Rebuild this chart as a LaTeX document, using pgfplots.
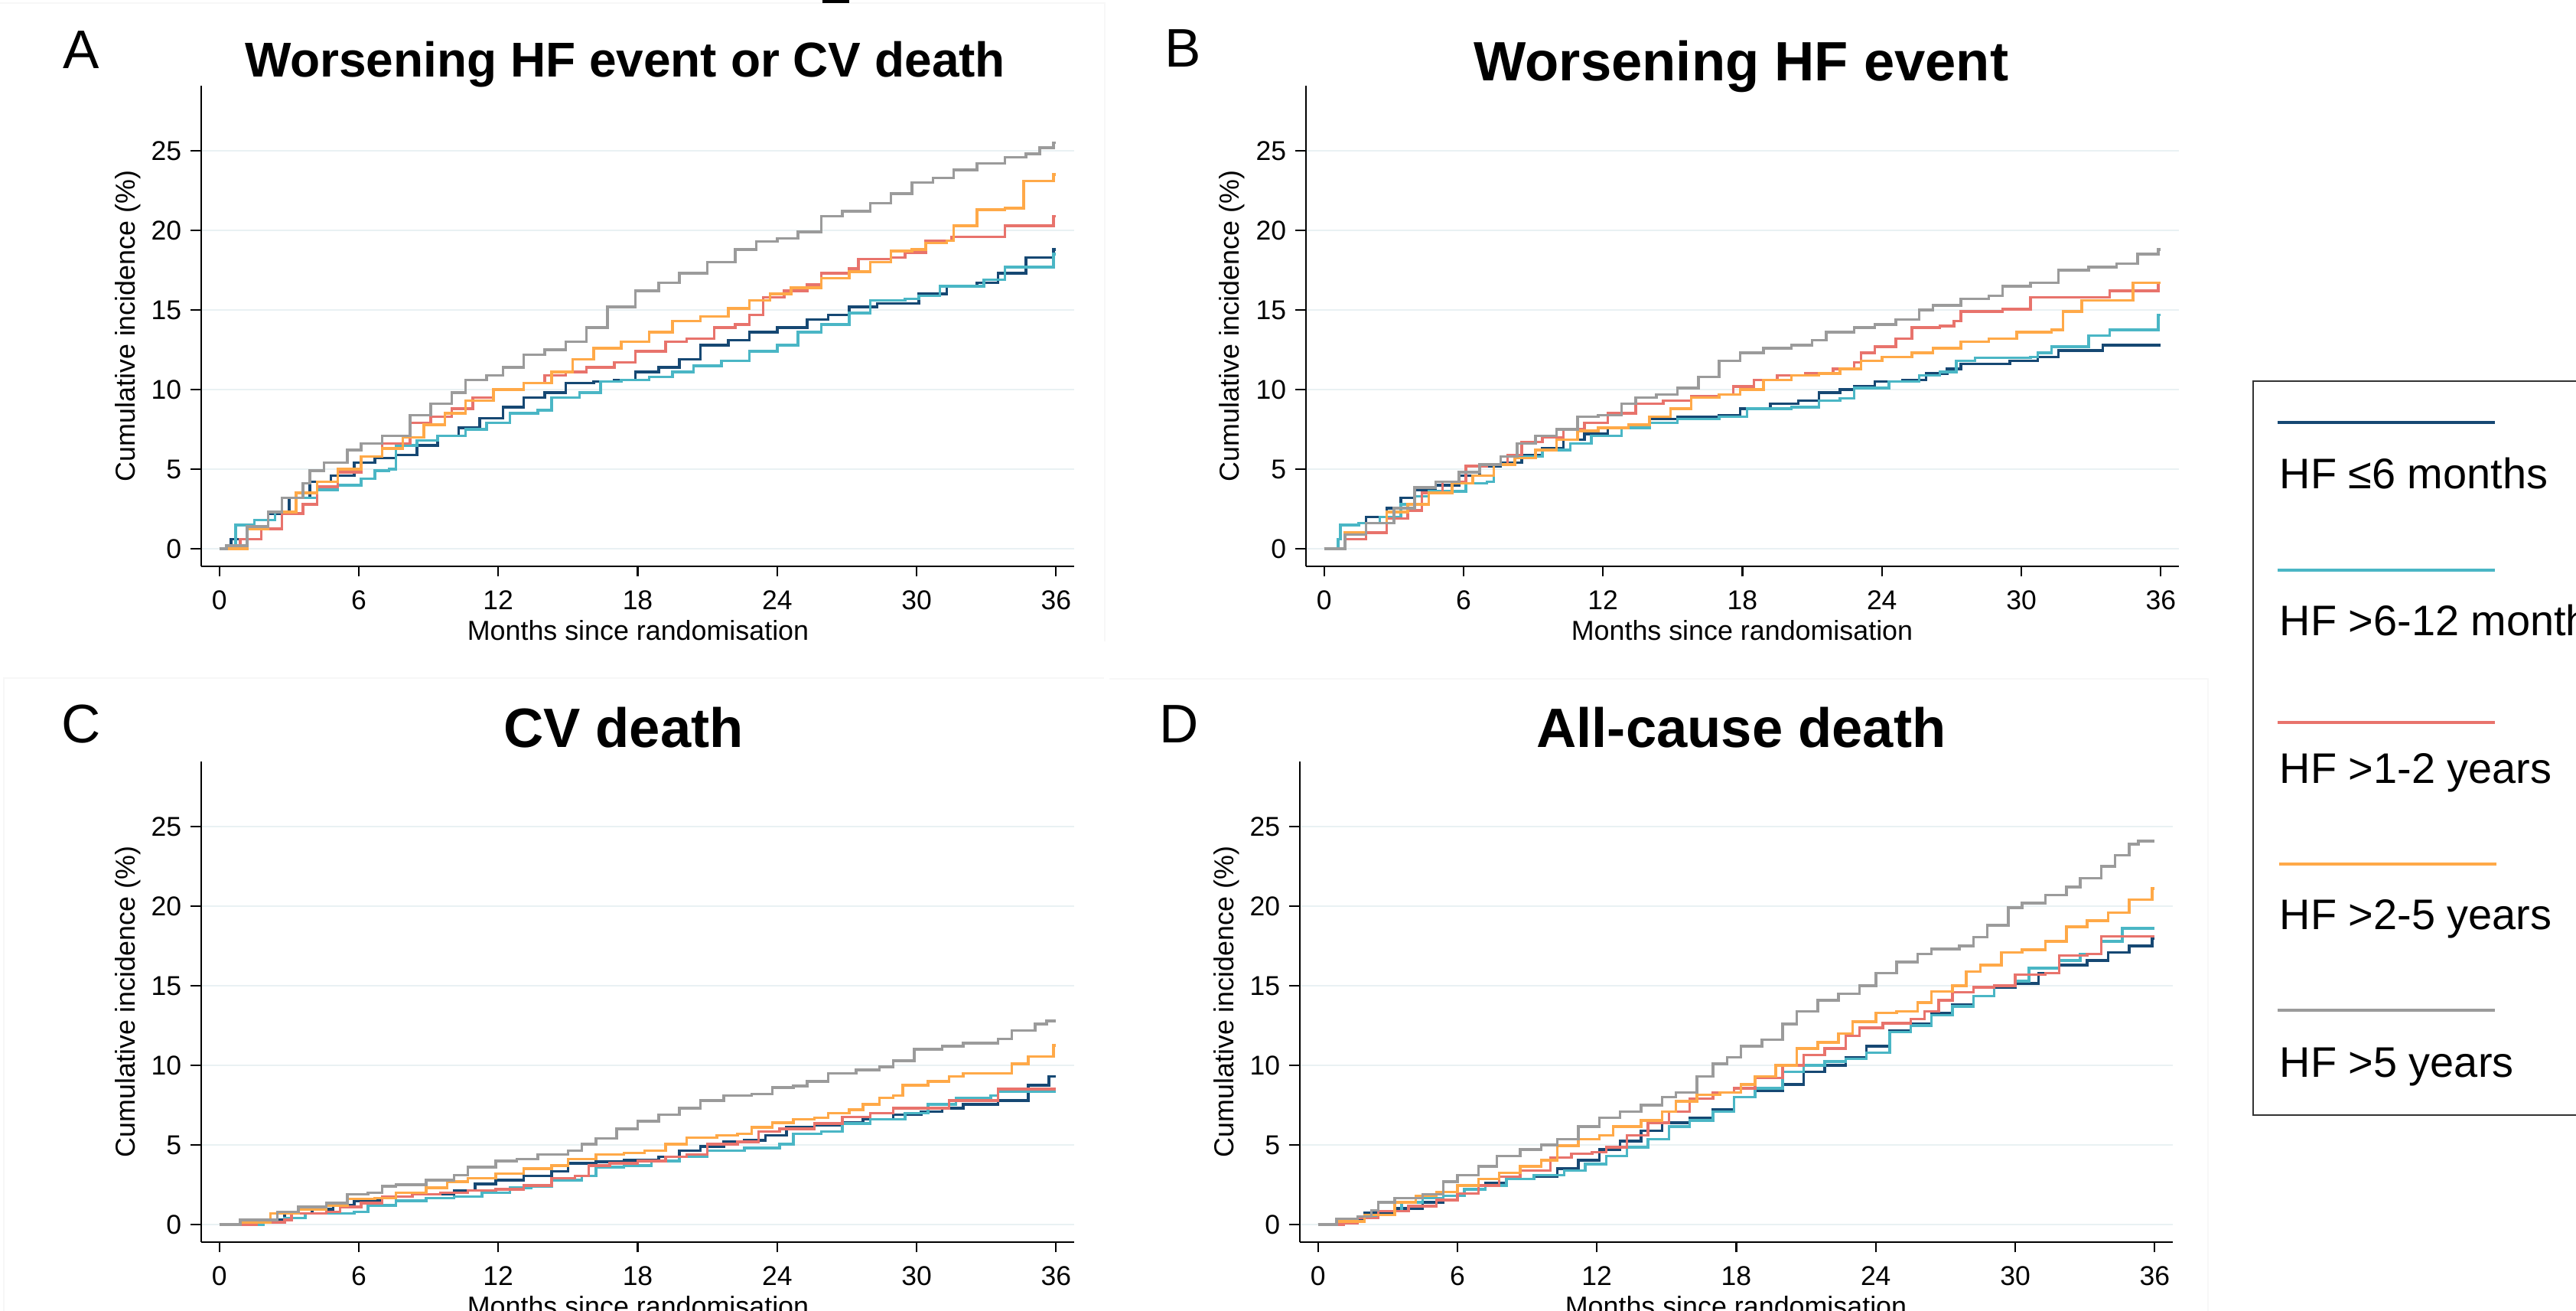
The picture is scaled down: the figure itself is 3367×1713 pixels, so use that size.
\documentclass[border=0pt]{standalone}
\usepackage{pgfplots}
\pgfplotsset{compat=1.18}
\usepackage{fontspec}
\setmainfont{Liberation Sans}
\definecolor{cnavy}{RGB}{22,72,115}
\definecolor{cteal}{RGB}{74,182,197}
\definecolor{cred}{RGB}{232,115,108}
\definecolor{corange}{RGB}{255,169,72}
\definecolor{cgray}{RGB}{155,155,155}
\definecolor{gridc}{RGB}{233,241,243}
\pgfplotsset{
  panel/.style={
    scale only axis, width=114.1mm, height=62.8mm,
    xmin=-0.78, xmax=36.78, ymin=-1.106, ymax=29.09,
    axis x line*=bottom, axis y line*=left,
    xtick={0,6,...,36}, ytick={0,5,...,25},
    tick align=outside, major tick length=1.35mm,
    ymajorgrids, grid style={color=gridc, line width=0.75pt},
    axis line style={line width=0.7pt, black},
    tick style={line width=0.6pt, black},
    /pgf/number format/assume math mode=true,
    ticklabel style={font=\fontsize{10.1}{12}\selectfont},
    xticklabel style={yshift=-0.6mm},
    every axis plot/.append style={const plot, line width=1pt, no marks},
  },
  nv/.style={cnavy}, tl/.style={cteal}, rd/.style={cred}, og/.style={corange}, gy/.style={cgray},
}
\begin{document}
\begin{tikzpicture}[x=0.1mm,y=0.1mm]
% faint panel borders
\draw[gray!6, line width=0.4pt] (0,1709) -- (1444,1709) -- (1444,875);
\draw[gray!6, line width=0.4pt] (5,-10) -- (5,827) -- (1443,827);
\draw[gray!6, line width=0.4pt] (1450,826) -- (2886,826) -- (2886,-10);
\fill[black] (1075,1713) rectangle (1110,1709);
% ---------------- Panel A
\begin{axis}[panel, at={(26.3mm,97.3mm)}, anchor=south west]
\addplot[nv] coordinates {(0,0)(0.5,0.6)(1.2,1.25)(2.1,2.2)(3.0,3.2)(3.9,4.2)(4.8,4.6)(5.8,5.4)(6.7,5.7)(7.6,5.9)(8.5,6.5)(9.4,7.1)(10.3,7.6)(11.2,8.2)(12.2,8.9)(13.1,9.5)(14.0,9.8)(14.9,10.4)(16.1,10.5)(17.0,10.6)(17.9,11.1)(18.9,11.4)(19.8,11.9)(20.7,12.8)(21.9,13.1)(22.8,13.6)(24.0,13.9)(25.3,14.4)(26.2,14.7)(27.1,15.2)(28.3,15.4)(30.1,16.0)(31.3,16.5)(32.6,16.7)(33.5,17.3)(34.7,18.3)(35.9,18.8)(36,18.8)};
\addplot[tl] coordinates {(0,0)(0.7,1.5)(1.5,1.8)(2.4,2.3)(3.3,3.2)(4.2,3.7)(5.1,4.0)(6.1,4.4)(6.7,4.9)(7.3,5.0)(7.6,6.5)(8.5,6.8)(9.4,7.1)(10.6,7.5)(11.5,7.9)(12.5,8.5)(13.7,8.7)(14.3,9.5)(15.5,9.8)(16.4,10.5)(17.3,10.6)(18.5,10.8)(19.5,11.1)(20.4,11.5)(21.6,11.8)(22.8,12.4)(24.0,12.8)(24.9,13.6)(25.9,14.1)(27.1,14.8)(28.0,15.6)(29.5,15.7)(30.1,15.9)(31.0,16.5)(32.9,16.9)(33.8,17.7)(35.9,18.5)(36,18.5)};
\addplot[rd] coordinates {(0,0)(0.9,0.6)(1.8,1.25)(2.7,2.2)(3.6,2.8)(4.2,3.9)(5.1,4.8)(6.1,5.8)(7.0,6.6)(8.2,7.9)(9.1,8.3)(10.0,8.8)(10.9,9.5)(11.8,10.0)(13.1,10.4)(14.0,10.9)(14.9,11.1)(15.8,11.4)(17.0,11.7)(17.9,12.4)(19.2,13.0)(20.1,13.2)(21.3,13.9)(22.2,14.1)(22.8,14.7)(23.4,15.8)(24.3,16.2)(25.3,16.6)(25.9,17.3)(27.1,17.6)(27.5,18.2)(28.9,18.3)(29.5,18.6)(30.4,19.35)(31.5,19.6)(33.8,20.3)(35.9,20.9)(36,20.9)};
\addplot[og] coordinates {(0,0)(1.2,1.25)(2.1,2.3)(3.3,3.5)(4.2,4.2)(5.1,5.0)(6.1,5.8)(7.0,6.3)(7.9,7.0)(8.8,7.8)(9.7,8.5)(10.6,9.3)(11.8,10.0)(13.1,10.4)(14.3,11.1)(15.2,11.9)(16.1,12.6)(17.3,13.0)(18.5,13.6)(19.5,14.3)(20.7,14.6)(21.9,15.1)(22.8,15.6)(23.7,16.0)(24.6,16.4)(25.9,17.0)(27.1,17.4)(28.0,18.0)(28.9,18.7)(29.8,18.8)(30.4,19.2)(31.3,19.35)(31.6,20.3)(32.6,21.3)(33.8,21.4)(34.6,23.1)(35.9,23.5)(36,23.5)};
\addplot[gy] coordinates {(0,0)(0.3,0.2)(1.2,1.4)(2.1,2.3)(2.7,3.2)(3.6,4.1)(3.9,4.9)(4.5,5.4)(5.5,6.2)(6.1,6.6)(7.0,7.1)(8.2,8.4)(9.1,9.1)(10.0,9.8)(10.6,10.6)(11.5,10.9)(12.2,11.4)(13.1,12.2)(14.0,12.5)(14.9,13.0)(15.8,13.9)(16.7,15.2)(17.9,16.2)(18.9,16.7)(19.8,17.3)(21.0,18.0)(22.2,18.8)(23.1,19.3)(24.0,19.5)(24.9,19.9)(25.9,20.9)(26.8,21.2)(28.0,21.7)(28.9,22.3)(29.8,23.0)(30.7,23.3)(31.6,23.8)(32.6,24.2)(33.8,24.6)(34.7,24.8)(35.3,25.2)(35.9,25.5)(36,25.5)};
\end{axis}
% ---------------- Panel B
\begin{axis}[panel, at={(170.7mm,97.3mm)}, anchor=south west]
\addplot[nv] coordinates {(0,0)(0.9,1.0)(1.8,2.0)(2.7,2.55)(3.3,3.2)(3.9,3.7)(4.8,4.0)(5.8,4.6)(6.7,5.2)(7.6,5.4)(8.5,5.9)(9.4,6.3)(10.3,6.85)(11.2,7.2)(12.2,7.6)(13.1,7.8)(14.0,8.15)(15.2,8.3)(17.0,8.4)(17.9,8.8)(19.2,9.1)(20.4,9.3)(21.3,9.8)(22.2,10.0)(22.8,10.2)(23.7,10.5)(24.9,10.6)(25.9,11.0)(26.8,11.3)(27.4,11.6)(29.5,11.8)(30.7,12.05)(31.6,12.45)(33.5,12.8)(36,12.8)};
\addplot[tl] coordinates {(0,0)(0.6,0.6)(0.7,1.5)(1.5,1.6)(2.4,2.0)(3.3,2.8)(3.9,3.3)(4.5,3.6)(6.1,4.1)(7.0,4.2)(7.3,5.3)(8.2,5.8)(9.4,6.2)(10.6,6.6)(11.5,7.1)(12.8,7.6)(14.0,7.9)(15.2,8.15)(17.0,8.3)(18.2,8.8)(20.1,8.9)(21.3,9.3)(22.2,9.45)(22.8,10.1)(24.3,10.5)(25.6,10.9)(26.5,11.1)(27.2,11.8)(28.0,12.0)(30.4,12.05)(30.7,12.3)(31.3,12.7)(32.9,13.4)(33.8,13.75)(35.9,14.7)(36,14.7)};
\addplot[rd] coordinates {(0,0)(0.9,0.6)(1.8,1.0)(2.7,1.9)(3.6,2.4)(4.2,3.5)(5.1,4.2)(6.1,5.2)(7.0,5.3)(7.9,5.9)(8.5,6.7)(9.4,7.0)(10.3,7.5)(11.2,7.9)(12.2,8.5)(13.4,9.1)(14.6,9.3)(15.8,9.6)(17.0,9.7)(17.6,10.2)(18.5,10.6)(19.5,10.9)(20.7,11.0)(21.9,11.3)(22.8,11.7)(23.1,12.3)(23.7,12.7)(24.6,13.2)(25.3,13.9)(26.5,14.0)(27.1,14.3)(27.4,14.9)(29.2,15.05)(30.4,15.8)(33.8,16.2)(35.9,16.7)(36,16.7)};
\addplot[og] coordinates {(0,0)(0.9,1.0)(1.8,1.6)(2.7,2.3)(3.6,2.8)(4.5,3.5)(5.5,4.1)(6.4,4.6)(7.3,5.3)(8.2,5.7)(9.1,6.2)(10.0,6.85)(10.9,7.4)(11.8,7.6)(13.1,7.8)(14.0,8.3)(14.9,8.8)(15.8,9.5)(17.0,9.7)(17.9,10.0)(18.9,10.6)(20.1,10.9)(21.3,11.0)(22.2,11.3)(23.1,11.8)(24.0,12.05)(25.3,12.3)(26.2,12.6)(27.4,13.0)(28.6,13.2)(29.8,13.6)(31.3,13.75)(31.8,14.9)(32.6,15.6)(34.8,16.7)(36,16.7)};
\addplot[gy] coordinates {(0,0)(0.9,0.9)(1.8,1.6)(3.0,2.55)(3.9,3.85)(4.8,4.2)(5.8,4.8)(6.7,5.3)(7.6,5.8)(8.3,6.6)(9.1,7.1)(10.0,7.5)(10.9,8.3)(11.8,8.4)(12.8,9.1)(13.4,9.5)(14.3,9.7)(15.2,10.1)(16.1,10.8)(17.0,11.8)(17.9,12.3)(18.9,12.6)(20.1,12.8)(21.0,13.1)(21.6,13.6)(22.8,13.9)(23.7,14.1)(24.6,14.4)(25.6,15.0)(26.2,15.3)(27.4,15.7)(28.6,15.9)(29.2,16.5)(30.4,16.7)(31.6,17.5)(32.9,17.7)(34.1,17.9)(35.0,18.5)(35.9,18.8)(36,18.8)};
\end{axis}
% ---------------- Panel C
\begin{axis}[panel, at={(26.3mm,9.0mm)}, anchor=south west]
\addplot[nv] coordinates {(0,0)(1.4,0.3)(2.8,0.7)(4.0,0.95)(4.9,1.2)(5.8,1.5)(7.0,1.75)(8.3,1.9)(10.1,2.15)(11.0,2.55)(11.9,2.8)(13.1,3.05)(14.3,3.35)(15.0,3.85)(16.2,3.95)(17.4,4.05)(18.9,4.25)(19.8,4.65)(20.7,4.9)(21.7,5.2)(22.6,5.3)(23.5,5.6)(24.4,6.1)(25.6,6.25)(26.8,6.4)(27.7,6.6)(29.0,6.9)(30.2,7.1)(31.1,7.3)(32.0,7.55)(33.5,7.8)(34.8,8.75)(35.7,9.3)(36,9.3)};
\addplot[tl] coordinates {(0,0)(1.9,0.15)(2.8,0.4)(3.7,0.7)(5.8,0.8)(6.4,1.2)(7.6,1.5)(8.9,1.65)(10.1,1.75)(11.3,2.0)(12.5,2.3)(13.4,2.4)(14.3,2.8)(15.6,3.05)(16.2,3.6)(17.4,3.7)(18.6,4.0)(19.8,4.25)(21.0,4.65)(22.6,4.8)(24.1,5.05)(24.7,5.7)(25.9,5.85)(26.8,6.35)(28.0,6.6)(29.5,7.0)(30.5,7.55)(31.7,7.95)(33.2,8.1)(33.5,8.35)(36,8.35)};
\addplot[rd] coordinates {(0,0)(1.6,0.15)(2.8,0.3)(3.1,0.7)(4.6,0.8)(5.2,1.1)(6.1,1.35)(7.0,1.75)(8.3,1.9)(9.5,2.0)(10.7,2.15)(11.9,2.2)(13.1,2.45)(14.3,2.9)(15.3,3.05)(15.9,3.7)(16.8,3.85)(18.0,4.0)(19.2,4.25)(20.1,4.4)(21.0,5.05)(22.3,5.2)(23.2,5.85)(24.1,6.0)(25.6,6.35)(26.8,6.75)(28.0,7.0)(29.0,7.3)(31.4,7.8)(33.5,8.5)(36,8.5)};
\addplot[og] coordinates {(0,0)(0.9,0.15)(2.2,0.7)(3.4,0.95)(4.6,1.2)(5.5,1.6)(6.7,1.65)(7.6,2.0)(8.9,2.3)(9.8,2.7)(10.7,2.9)(11.9,3.2)(13.1,3.5)(14.3,3.7)(15.0,4.1)(16.2,4.4)(17.4,4.5)(18.3,4.65)(19.2,5.05)(20.1,5.45)(21.4,5.6)(22.3,5.7)(22.9,6.1)(23.8,6.4)(24.7,6.6)(25.6,6.7)(26.2,7.0)(27.1,7.2)(27.7,7.55)(28.4,7.95)(29.0,8.1)(29.4,8.75)(30.5,9.0)(31.4,9.3)(32.0,9.5)(34.1,10.1)(34.8,10.55)(35.9,11.25)(36,11.25)};
\addplot[gy] coordinates {(0,0)(0.9,0.3)(2.5,0.8)(3.4,1.1)(4.6,1.35)(5.5,1.9)(6.4,2.0)(7.0,2.4)(7.6,2.5)(8.9,2.8)(10.1,3.1)(10.7,3.6)(11.9,4.0)(12.8,4.1)(13.7,4.4)(15.0,4.65)(15.6,5.05)(16.2,5.4)(17.1,6.0)(18.0,6.5)(18.9,6.9)(19.8,7.3)(20.7,7.8)(21.7,8.1)(22.9,8.2)(23.8,8.6)(24.7,8.7)(25.3,9.0)(26.2,9.5)(27.4,9.7)(28.4,9.9)(29.0,10.3)(29.9,11.0)(31.1,11.2)(32.0,11.4)(33.5,11.65)(34.1,12.2)(35.1,12.6)(35.6,12.8)(36,12.8)};
\end{axis}
% ---------------- Panel D
\begin{axis}[panel, at={(169.9mm,9.0mm)}, anchor=south west]
\addplot[nv] coordinates {(0,0)(1.1,0.35)(2.0,0.75)(3.3,1.0)(4.5,1.4)(5.4,1.8)(6.3,2.2)(7.2,2.6)(8.1,2.85)(9.3,3.0)(10.3,3.5)(11.2,4.05)(12.1,4.7)(13.0,5.25)(13.9,5.9)(14.8,6.4)(16.0,6.7)(17.0,7.2)(17.9,8.0)(18.8,8.4)(20.0,8.8)(20.9,9.6)(21.8,10.0)(22.7,10.5)(23.6,11.2)(24.6,12.2)(25.5,12.6)(26.4,13.3)(27.3,13.8)(28.2,14.35)(29.1,14.9)(30.0,15.15)(31.0,15.8)(31.9,16.3)(33.1,16.6)(34.0,17.1)(34.9,17.5)(35.9,17.95)(36,17.95)};
\addplot[tl] coordinates {(0,0)(0.8,0.35)(1.7,0.5)(2.6,0.85)(3.6,1.4)(4.5,1.65)(5.4,1.8)(6.3,2.2)(7.2,2.45)(8.1,2.85)(9.3,3.1)(10.6,3.4)(11.5,3.8)(12.4,4.3)(13.3,4.85)(14.2,5.35)(15.1,6.15)(16.0,6.55)(17.0,7.1)(17.9,8.0)(18.8,8.55)(20.0,9.6)(20.9,10.0)(21.8,10.25)(22.7,10.4)(23.6,10.8)(24.6,12.1)(25.5,12.5)(26.4,13.15)(27.3,13.7)(28.2,14.35)(29.1,15.0)(30.0,15.3)(30.6,16.1)(31.9,16.6)(32.8,17.0)(33.7,17.8)(34.6,18.6)(36,18.6)};
\addplot[rd] coordinates {(0,0)(1.1,0.1)(1.7,0.4)(2.6,0.85)(3.9,1.15)(5.1,1.55)(6.0,1.95)(6.9,2.45)(7.8,3.0)(8.7,3.4)(10.0,4.2)(10.9,4.45)(11.8,4.55)(12.4,4.85)(13.3,5.6)(14.2,6.4)(15.1,7.1)(16.0,7.9)(17.0,8.3)(17.9,8.55)(18.8,9.2)(20.0,10.0)(20.9,10.65)(21.8,11.05)(22.7,11.85)(23.3,12.35)(24.3,12.65)(25.5,12.9)(26.1,13.4)(26.7,14.1)(27.3,14.6)(28.2,14.9)(29.1,15.0)(30.0,15.7)(31.3,15.8)(31.9,16.9)(33.1,17.0)(33.7,18.1)(36,18.1)};
\addplot[og] coordinates {(0,0)(0.8,0.2)(2.0,0.6)(3.3,1.4)(4.2,1.8)(5.1,2.05)(6.0,2.45)(6.9,2.85)(7.8,3.25)(8.7,3.65)(9.6,4.05)(10.3,4.95)(11.2,5.35)(12.1,5.6)(12.7,6.15)(13.9,6.55)(14.8,7.1)(15.4,7.75)(16.3,8.15)(17.3,8.3)(18.2,8.8)(18.8,9.3)(19.7,10.0)(20.6,11.05)(21.5,11.45)(22.4,12.0)(23.0,12.75)(24.0,13.3)(24.9,13.4)(25.8,13.95)(26.4,14.65)(27.3,15.0)(27.9,15.9)(28.5,16.3)(29.4,17.1)(30.3,17.25)(31.3,17.8)(32.2,18.7)(33.1,19.1)(34.0,19.6)(34.9,20.4)(35.9,21.1)(36,21.1)};
\addplot[gy] coordinates {(0,0)(0.8,0.35)(1.7,0.5)(2.3,0.9)(2.6,1.4)(3.3,1.65)(4.5,1.9)(5.4,2.7)(6.0,3.1)(6.9,3.65)(7.7,4.3)(8.7,4.7)(9.6,5.0)(10.3,5.35)(11.2,6.15)(12.1,6.7)(13.0,7.1)(13.9,7.5)(14.8,8.0)(15.4,8.3)(16.3,9.3)(17.0,10.1)(17.6,10.5)(18.2,11.2)(19.1,11.6)(20.0,12.6)(20.6,13.4)(21.5,14.1)(22.4,14.5)(23.3,15.0)(24.0,15.8)(24.9,16.5)(25.8,17.0)(26.4,17.3)(27.6,17.5)(28.2,18.05)(28.8,18.8)(29.7,19.9)(30.3,20.2)(31.3,20.7)(32.2,21.2)(32.8,21.75)(33.7,22.5)(34.3,23.2)(34.9,23.9)(35.3,24.1)(36,24.1)};
\end{axis}
% ---------------- texts
\begin{scope}[every node/.style={inner sep=0pt}]
\node[anchor=base west, font=\fontsize{20.2}{24}\selectfont] at (82,1623) {A};
\node[anchor=base west, font=\fontsize{20.2}{24}\selectfont] at (1522,1625) {B};
\node[anchor=base west, font=\fontsize{20.2}{24}\selectfont] at (80,742) {C};
\node[anchor=base west, font=\fontsize{20.2}{24}\selectfont] at (1515,742) {D};
\node[anchor=base, font=\bfseries\fontsize{18.2}{22}\selectfont] at (817,1612) {Worsening HF event or CV death};
\node[anchor=base, font=\bfseries\fontsize{20.6}{24}\selectfont] at (2276,1607) {Worsening HF event};
\node[anchor=base, font=\bfseries\fontsize{20.6}{24}\selectfont] at (815,736) {CV death};
\node[anchor=base, font=\bfseries\fontsize{20.6}{24}\selectfont] at (2276,736) {All-cause death};
\node[rotate=90, font=\fontsize{10.2}{12}\selectfont] at (167,1287) {Cumulative incidence (\%)};
\node[rotate=90, font=\fontsize{10.2}{12}\selectfont] at (1610,1287) {Cumulative incidence (\%)};
\node[rotate=90, font=\fontsize{10.2}{12}\selectfont] at (167,404) {Cumulative incidence (\%)};
\node[rotate=90, font=\fontsize{10.2}{12}\selectfont] at (1603,404) {Cumulative incidence (\%)};
\node[anchor=base, font=\fontsize{10.2}{12}\selectfont] at (834,876) {Months since randomisation};
\node[anchor=base, font=\fontsize{10.2}{12}\selectfont] at (2277,876) {Months since randomisation};
\node[anchor=base, font=\fontsize{10.2}{12}\selectfont] at (834,-7) {Months since randomisation};
\node[anchor=base, font=\fontsize{10.2}{12}\selectfont] at (2269,-7) {Months since randomisation};
% legend
\draw[line width=0.6pt, black!80] (3500,256) -- (2945,256) -- (2945,1215) -- (3500,1215);
\draw[cnavy, line width=1.2pt] (2977,1161) -- (3261,1161);
\draw[cteal, line width=1.2pt] (2977,968) -- (3261,968);
\draw[cred, line width=1.2pt] (2977,769) -- (3261,769);
\draw[corange, line width=1.2pt] (2979,584) -- (3263,584);
\draw[cgray, line width=1.2pt] (2977,393) -- (3261,393);
\node[anchor=base west, font=\fontsize{15.9}{19}\selectfont] at (2979,1074) {HF ≤6 months};
\node[anchor=base west, font=\fontsize{15.9}{19}\selectfont] at (2979,882) {HF >6-12 months};
\node[anchor=base west, font=\fontsize{15.9}{19}\selectfont] at (2979,689) {HF >1-2 years};
\node[anchor=base west, font=\fontsize{15.9}{19}\selectfont] at (2979,498) {HF >2-5 years};
\node[anchor=base west, font=\fontsize{15.9}{19}\selectfont] at (2979,305) {HF >5 years};
\end{scope}
\pgfresetboundingbox
\path[use as bounding box] (0,0) rectangle (3367,1713);
\end{tikzpicture}
\end{document}
